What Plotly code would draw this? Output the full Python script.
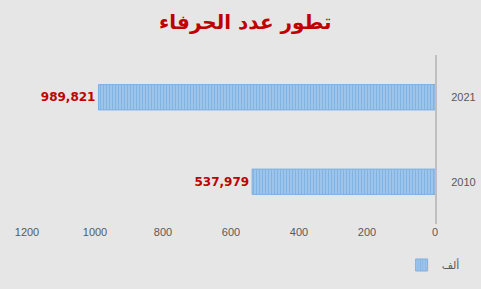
import plotly.graph_objects as go

years = ["2010", "2021"]
values = [537.979, 989.821]
labels = ["537,979", "989,821"]
series_name = "ألف"
title_text = "تطور عدد الحرفاء"
x_ticks = [0, 200, 400, 600, 800, 1000, 1200]

fig = go.Figure()
fig.add_trace(go.Bar(
    y=years, x=values, orientation="h", name=series_name,
    text=["<b>" + t + "</b>" for t in labels], textposition="outside",
    textfont=dict(color="#c00000", size=12, family="DejaVu Sans"),
    marker=dict(color="#a9cdef",
                line=dict(color="#7fb0e0", width=1),
                pattern=dict(shape="|", fgcolor="#5b9bd5", bgcolor="#a9cdef",
                             size=3, solidity=0.55)),
    width=0.3,
    cliponaxis=False,
))

fig.update_layout(
    width=481, height=289,
    margin=dict(l=27, r=46, t=55, b=65),
    paper_bgcolor="#e6e6e6", plot_bgcolor="#e6e6e6",
    title=dict(text="<b>" + title_text + "</b>", x=0.51, xanchor="center",
               y=0.925, yanchor="middle",
               font=dict(color="#c00000", size=20, family="DejaVu Sans")),
    showlegend=True,
    legend=dict(orientation="h", xref="container", yref="container",
                x=0.835, xanchor="left", y=0.083, yanchor="middle",
                font=dict(size=11, color="#595959", family="DejaVu Sans"),
                bgcolor="rgba(0,0,0,0)", itemwidth=30),
    xaxis=dict(range=[1200, 0], tickvals=x_ticks, showgrid=False, zeroline=False,
               showline=False, ticks="", automargin=False,
               tickfont=dict(size=11, color="#595959", family="Liberation Sans")),
    yaxis=dict(type="category", categoryorder="array", categoryarray=years,
               side="right", showgrid=False, zeroline=False, automargin=False,
               showline=True, linecolor="#bfbfbf", linewidth=2, ticks="",
               ticklabelstandoff=12,
               tickfont=dict(size=11, color="#595959", family="Liberation Sans")),
    font=dict(family="Liberation Sans"),
)

fig.write_html("out.html")
